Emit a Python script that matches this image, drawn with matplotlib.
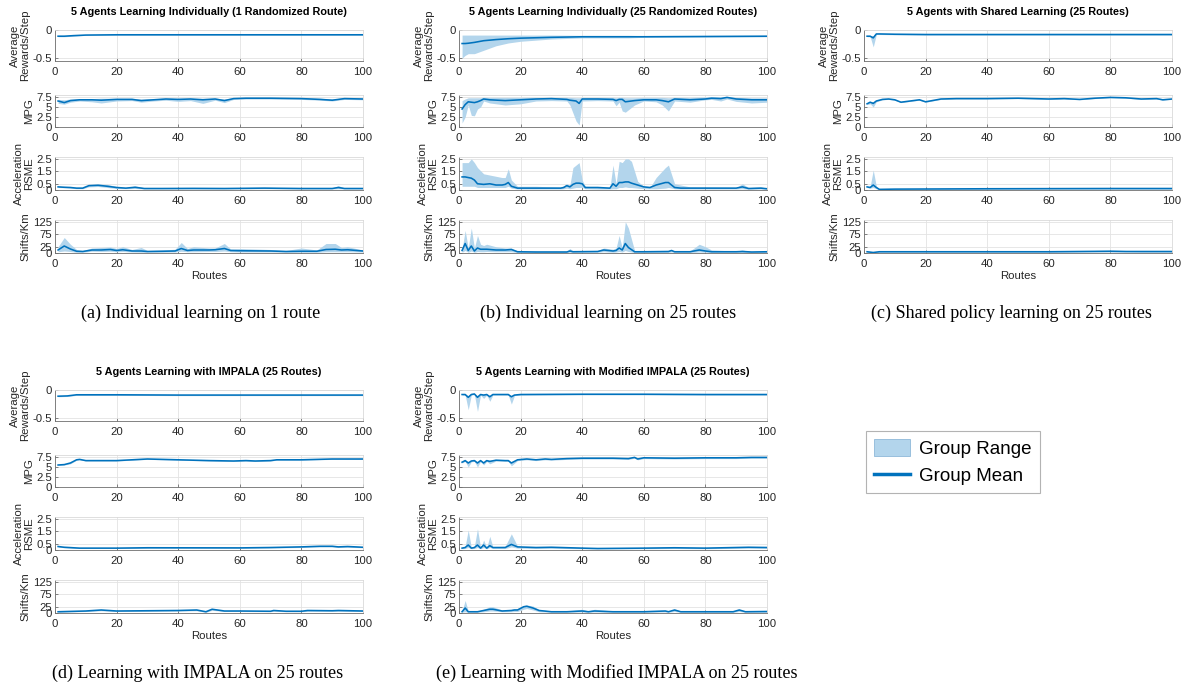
import numpy as np
import matplotlib
matplotlib.use('Agg')
import matplotlib.pyplot as plt
from matplotlib.patches import Patch
from matplotlib.lines import Line2D

plt.rcParams['font.family'] = ['Liberation Sans', 'DejaVu Sans']

#################################
# data (route, mean, lower, upper)
#################################

# (a) individual learning, 1 route
a_rew_x = [1, 3, 6, 10, 20, 40, 60, 80, 100]
a_rew_mean = [-0.11, -0.11, -0.10, -0.09, -0.085, -0.085, -0.085, -0.085, -0.085]
a_rew_lo = [-0.12, -0.12, -0.11, -0.095, -0.09, -0.09, -0.09, -0.09, -0.09]
a_rew_hi = [-0.10, -0.10, -0.09, -0.085, -0.08, -0.08, -0.08, -0.08, -0.08]

a_mpg_x = [1, 3, 5, 8, 12, 15, 20, 25, 28, 32, 36, 40, 44, 48, 52, 55, 58, 62, 70, 80, 86, 90, 94, 100]
a_mpg_mean = [6.5, 6.1, 6.6, 6.8, 6.8, 6.7, 6.9, 6.9, 6.6, 6.8, 7.0, 6.9, 7.0, 6.8, 7.0, 6.6, 7.1, 7.2, 7.2, 7.1, 6.9, 6.7, 7.1, 7.0]
a_mpg_lo = [5.9, 5.7, 6.2, 6.5, 6.3, 6.0, 6.5, 6.6, 6.2, 6.5, 6.7, 6.4, 6.6, 5.9, 6.7, 6.1, 6.9, 7.0, 7.0, 6.9, 6.7, 6.5, 6.9, 6.8]
a_mpg_hi = [6.9, 6.8, 7.0, 7.1, 7.1, 7.2, 7.2, 7.2, 7.0, 7.1, 7.2, 7.2, 7.2, 7.2, 7.2, 7.0, 7.3, 7.4, 7.4, 7.3, 7.2, 7.0, 7.3, 7.2]

a_acc_x = [1, 3, 5, 7, 9, 11, 14, 17, 20, 23, 26, 29, 35, 45, 55, 68, 80, 90, 92, 94, 100]
a_acc_mean = [0.25, 0.22, 0.2, 0.15, 0.15, 0.35, 0.38, 0.3, 0.2, 0.15, 0.22, 0.12, 0.12, 0.13, 0.12, 0.15, 0.12, 0.12, 0.2, 0.12, 0.12]
a_acc_lo = [0.2, 0.18, 0.15, 0.1, 0.1, 0.25, 0.28, 0.2, 0.12, 0.1, 0.12, 0.08, 0.08, 0.08, 0.08, 0.1, 0.08, 0.08, 0.1, 0.08, 0.08]
a_acc_hi = [0.3, 0.28, 0.25, 0.2, 0.2, 0.42, 0.48, 0.45, 0.28, 0.2, 0.32, 0.18, 0.16, 0.2, 0.18, 0.22, 0.16, 0.16, 0.35, 0.16, 0.16]

a_sh_x = [1, 3, 5, 7, 9, 12, 15, 18, 20, 22, 25, 28, 30, 35, 39, 41, 43, 45, 50, 52, 55, 57, 60, 70, 75, 80, 85, 88, 91, 93, 95, 100]
a_sh_mean = [12, 28, 16, 7, 6, 12, 12, 14, 10, 13, 8, 8, 6, 7, 8, 18, 10, 12, 12, 13, 18, 10, 9, 8, 6, 7, 7, 14, 15, 12, 13, 8]
a_sh_lo = [5, 8, 6, 3, 3, 7, 6, 7, 5, 6, 4, 3, 3, 3, 4, 7, 5, 5, 6, 6, 8, 5, 4, 4, 3, 3, 3, 5, 5, 5, 5, 4]
a_sh_hi = [25, 62, 35, 14, 10, 20, 22, 24, 18, 25, 14, 22, 10, 12, 15, 42, 18, 25, 20, 20, 38, 16, 18, 14, 10, 20, 12, 38, 38, 22, 25, 12]

# (b) individual learning, 25 routes
b_rew_x = [1, 2, 3, 5, 8, 12, 16, 20, 30, 40, 55, 60, 80, 100]
b_rew_mean = [-0.24, -0.24, -0.235, -0.22, -0.19, -0.17, -0.155, -0.145, -0.13, -0.12, -0.12, -0.12, -0.115, -0.11]
b_rew_lo = [-0.5, -0.45, -0.42, -0.42, -0.36, -0.28, -0.23, -0.2, -0.16, -0.14, -0.14, -0.13, -0.125, -0.12]
b_rew_hi = [-0.09, -0.09, -0.09, -0.09, -0.09, -0.09, -0.09, -0.09, -0.09, -0.095, -0.095, -0.1, -0.1, -0.1]

b_mpg_x = [1, 2, 3, 4, 5, 6, 7, 8, 10, 15, 20, 25, 30, 35, 36, 38, 39, 40, 45, 50, 51, 52, 53, 54, 57, 60, 64, 66, 68, 70, 75, 80, 82, 85, 87, 90, 95, 100]
b_mpg_mean = [4.5, 5.6, 6.3, 6.2, 6.1, 6.3, 6.6, 7.0, 6.8, 6.6, 6.8, 7.0, 7.1, 6.9, 6.7, 6.5, 5.9, 7.0, 7.0, 6.9, 6.6, 6.9, 6.9, 6.3, 6.6, 6.8, 6.8, 6.6, 6.3, 7.0, 6.8, 7.0, 7.2, 7.1, 7.4, 7.0, 6.8, 6.8]
b_mpg_lo = [1.0, 2.5, 5.5, 2.9, 2.8, 4.5, 5.0, 6.5, 6.0, 5.5, 5.8, 6.5, 6.6, 6.5, 5.5, 1.5, 0.5, 6.5, 6.6, 6.5, 5.3, 6.2, 4.0, 3.7, 5.5, 6.5, 6.3, 5.5, 4.0, 6.5, 6.2, 6.8, 6.9, 6.5, 7.0, 6.4, 6.0, 6.2]
b_mpg_hi = [6.6, 7.0, 7.3, 7.3, 7.3, 7.3, 7.3, 7.4, 7.4, 7.4, 7.4, 7.4, 7.4, 7.4, 7.4, 7.3, 7.3, 7.4, 7.4, 7.4, 7.3, 7.4, 7.4, 7.3, 7.3, 7.4, 7.4, 7.4, 7.3, 7.4, 7.4, 7.5, 7.6, 7.5, 7.6, 7.4, 7.3, 7.3]

b_acc_x = [1, 2, 3, 4, 5, 6, 8, 10, 12, 14, 15, 16, 17, 19, 25, 33, 34, 35, 36, 37, 38, 39, 40, 41, 45, 49, 50, 51, 52, 53, 54, 55, 56, 58, 60, 62, 64, 67, 68, 70, 72, 75, 90, 92, 94, 98, 100]
b_acc_mean = [1.05, 1.05, 1.0, 0.95, 0.8, 0.5, 0.45, 0.5, 0.4, 0.4, 0.45, 0.6, 0.3, 0.15, 0.15, 0.15, 0.2, 0.35, 0.25, 0.45, 0.55, 0.55, 0.5, 0.2, 0.2, 0.15, 0.5, 0.3, 0.6, 0.6, 0.65, 0.65, 0.55, 0.4, 0.25, 0.2, 0.4, 0.6, 0.6, 0.2, 0.15, 0.15, 0.15, 0.25, 0.12, 0.15, 0.1]
b_acc_lo = [0.3, 0.3, 0.3, 0.3, 0.3, 0.2, 0.2, 0.2, 0.2, 0.2, 0.2, 0.3, 0.15, 0.08, 0.08, 0.08, 0.1, 0.15, 0.1, 0.15, 0.2, 0.2, 0.2, 0.1, 0.08, 0.08, 0.1, 0.1, 0.2, 0.2, 0.25, 0.2, 0.2, 0.15, 0.1, 0.1, 0.1, 0.15, 0.2, 0.1, 0.08, 0.08, 0.08, 0.1, 0.06, 0.08, 0.05]
b_acc_hi = [2.2, 2.2, 2.2, 2.5, 2.2, 1.8, 1.3, 1.2, 1.1, 1.0, 1.0, 1.7, 0.8, 0.3, 0.3, 0.22, 0.35, 0.5, 0.4, 1.8, 2.0, 2.2, 0.8, 0.3, 0.25, 0.2, 2.0, 0.5, 2.3, 2.2, 2.5, 2.5, 2.3, 0.7, 0.3, 0.2, 1.0, 1.8, 2.0, 0.5, 0.4, 0.25, 0.2, 0.5, 0.2, 0.25, 0.15]

b_sh_x = [1, 2, 3, 4, 5, 6, 7, 8, 9, 12, 15, 17, 19, 25, 35, 36, 37, 45, 47, 50, 51, 52, 53, 54, 55, 57, 60, 68, 69, 70, 75, 78, 80, 82, 90, 92, 95, 100]
b_sh_mean = [10, 38, 10, 28, 8, 20, 15, 15, 15, 12, 12, 14, 5, 4, 4, 8, 5, 6, 12, 8, 10, 20, 12, 38, 22, 5, 5, 6, 10, 5, 5, 12, 8, 5, 5, 6, 4, 5]
b_sh_lo = [3, 10, 3, 8, 3, 6, 5, 5, 6, 5, 5, 5, 2, 2, 2, 3, 2, 3, 5, 3, 4, 6, 4, 10, 6, 2, 2, 2, 4, 2, 2, 4, 3, 2, 2, 2, 2, 2]
b_sh_hi = [15, 90, 20, 100, 20, 70, 35, 30, 35, 25, 20, 20, 8, 8, 8, 18, 8, 10, 20, 15, 20, 70, 20, 125, 100, 10, 8, 8, 12, 8, 8, 35, 25, 12, 8, 12, 5, 10]

# (c) shared policy learning
c_rew_x = [1, 2, 3, 4, 5, 10, 20, 40, 60, 80, 100]
c_rew_mean = [-0.11, -0.11, -0.14, -0.07, -0.07, -0.075, -0.08, -0.08, -0.08, -0.08, -0.08]
c_rew_lo = [-0.12, -0.12, -0.30, -0.08, -0.08, -0.085, -0.09, -0.09, -0.09, -0.09, -0.09]
c_rew_hi = [-0.10, -0.10, -0.10, -0.065, -0.065, -0.07, -0.075, -0.075, -0.075, -0.075, -0.075]

c_mpg_x = [1, 2, 3, 4, 6, 8, 10, 12, 15, 18, 20, 25, 30, 40, 50, 60, 65, 70, 75, 80, 85, 90, 95, 97, 100]
c_mpg_mean = [5.8, 6.2, 5.9, 6.5, 6.9, 7.0, 6.8, 6.2, 6.5, 6.8, 6.3, 7.0, 7.1, 7.1, 7.2, 7.0, 7.1, 6.9, 7.2, 7.4, 7.3, 7.0, 7.1, 6.8, 7.0]
c_mpg_lo = [5.6, 5.8, 5.0, 6.3, 6.8, 6.9, 6.7, 6.1, 6.4, 6.7, 6.2, 6.9, 7.0, 7.0, 7.1, 6.9, 7.0, 6.8, 7.1, 7.3, 7.2, 6.9, 7.0, 6.7, 6.9]
c_mpg_hi = [6.0, 6.4, 6.3, 6.7, 7.0, 7.1, 6.9, 6.3, 6.6, 6.9, 6.4, 7.1, 7.2, 7.2, 7.3, 7.1, 7.2, 7.0, 7.3, 7.5, 7.4, 7.1, 7.2, 6.9, 7.1]

c_acc_x = [1, 2, 3, 4, 5, 10, 20, 40, 60, 80, 100]
c_acc_mean = [0.25, 0.2, 0.4, 0.2, 0.05, 0.07, 0.08, 0.1, 0.11, 0.12, 0.12]
c_acc_lo = [0.2, 0.15, 0.2, 0.1, 0.03, 0.05, 0.05, 0.05, 0.06, 0.06, 0.06]
c_acc_hi = [0.3, 0.3, 1.6, 0.3, 0.08, 0.1, 0.12, 0.14, 0.15, 0.15, 0.15]

c_sh_x = [1, 3, 5, 20, 40, 60, 80, 85, 90, 100]
c_sh_mean = [5, 2, 5, 5, 5, 5, 7, 6, 6, 6]
c_sh_lo = [3, 1, 3, 3, 3, 3, 4, 4, 3, 3]
c_sh_hi = [7, 4, 7, 7, 7, 7, 11, 10, 8, 8]

# (d) IMPALA
d_rew_x = [1, 4, 7, 10, 20, 40, 60, 80, 100]
d_rew_mean = [-0.11, -0.105, -0.085, -0.085, -0.085, -0.09, -0.09, -0.09, -0.09]
d_rew_lo = [-0.12, -0.115, -0.095, -0.095, -0.095, -0.1, -0.1, -0.1, -0.1]
d_rew_hi = [-0.105, -0.1, -0.08, -0.08, -0.08, -0.085, -0.085, -0.085, -0.085]

d_mpg_x = [1, 3, 5, 7, 8, 10, 20, 25, 30, 40, 45, 50, 58, 62, 65, 70, 72, 80, 90, 100]
d_mpg_mean = [5.5, 5.6, 6.0, 6.8, 6.9, 6.6, 6.6, 6.8, 7.0, 6.8, 6.7, 6.6, 6.5, 6.6, 6.5, 6.6, 6.8, 6.8, 7.0, 7.0]
d_mpg_lo = [5.4, 5.5, 5.8, 6.7, 6.8, 6.5, 6.5, 6.7, 6.9, 6.7, 6.6, 6.5, 6.4, 6.5, 6.4, 6.5, 6.7, 6.7, 6.9, 6.9]
d_mpg_hi = [5.6, 5.7, 6.1, 6.9, 7.0, 6.7, 6.7, 6.9, 7.1, 6.9, 6.8, 6.7, 6.6, 6.7, 6.6, 6.7, 6.9, 6.9, 7.1, 7.1]

d_acc_x = [1, 3, 8, 20, 30, 60, 70, 80, 86, 90, 92, 95, 100]
d_acc_mean = [0.28, 0.22, 0.15, 0.15, 0.18, 0.17, 0.2, 0.25, 0.3, 0.3, 0.25, 0.28, 0.22]
d_acc_lo = [0.24, 0.18, 0.12, 0.12, 0.14, 0.14, 0.16, 0.2, 0.25, 0.25, 0.2, 0.22, 0.18]
d_acc_hi = [0.32, 0.26, 0.18, 0.18, 0.22, 0.2, 0.24, 0.3, 0.36, 0.36, 0.3, 0.34, 0.26]

d_sh_x = [1, 10, 15, 20, 30, 40, 46, 49, 51, 55, 60, 70, 71, 75, 80, 82, 90, 92, 100]
d_sh_mean = [5, 8, 12, 8, 9, 10, 12, 5, 15, 8, 8, 7, 10, 7, 7, 10, 9, 10, 8]
d_sh_lo = [3, 6, 9, 6, 7, 8, 9, 3, 11, 6, 6, 5, 7, 5, 5, 7, 7, 7, 6]
d_sh_hi = [7, 10, 15, 10, 11, 12, 15, 7, 18, 10, 10, 9, 13, 9, 9, 13, 11, 13, 10]

# (e) modified IMPALA
e_rew_x = [1, 2, 3, 4, 5, 6, 7, 8, 9, 10, 11, 15, 16, 17, 18, 20, 40, 60, 80, 100]
e_rew_mean = [-0.08, -0.08, -0.13, -0.08, -0.07, -0.13, -0.08, -0.09, -0.08, -0.12, -0.08, -0.08, -0.08, -0.12, -0.09, -0.08, -0.075, -0.075, -0.08, -0.08]
e_rew_lo = [-0.09, -0.09, -0.35, -0.09, -0.08, -0.38, -0.09, -0.15, -0.09, -0.2, -0.09, -0.09, -0.09, -0.25, -0.1, -0.09, -0.085, -0.085, -0.09, -0.09]
e_rew_hi = [-0.07, -0.07, -0.1, -0.07, -0.06, -0.1, -0.07, -0.08, -0.07, -0.1, -0.07, -0.07, -0.07, -0.1, -0.08, -0.07, -0.065, -0.065, -0.07, -0.07]

e_mpg_x = [1, 2, 3, 4, 5, 6, 7, 8, 9, 10, 12, 15, 16, 17, 19, 22, 25, 28, 30, 35, 40, 50, 55, 57, 58, 60, 70, 80, 90, 95, 100]
e_mpg_mean = [6.2, 6.6, 6.0, 6.5, 6.6, 6.0, 6.6, 6.0, 6.6, 6.4, 6.7, 6.6, 6.6, 6.0, 6.8, 7.0, 6.8, 7.0, 6.9, 7.1, 7.2, 7.2, 7.1, 7.4, 7.0, 7.3, 7.2, 7.3, 7.3, 7.4, 7.4]
e_mpg_lo = [6.0, 6.4, 5.0, 6.3, 6.4, 5.0, 6.4, 5.5, 6.4, 5.8, 6.5, 6.4, 6.4, 5.3, 6.6, 6.8, 6.6, 6.8, 6.7, 6.9, 7.0, 7.0, 6.9, 7.2, 6.8, 7.1, 7.0, 7.1, 7.1, 7.2, 7.2]
e_mpg_hi = [6.4, 6.8, 6.3, 6.7, 6.8, 6.3, 6.8, 6.3, 6.8, 6.7, 6.9, 6.8, 6.8, 6.3, 7.0, 7.2, 7.0, 7.2, 7.1, 7.3, 7.4, 7.4, 7.3, 7.6, 7.2, 7.5, 7.4, 7.5, 7.5, 7.6, 7.6]

e_acc_x = [1, 2, 3, 4, 5, 6, 7, 8, 9, 10, 11, 15, 17, 19, 25, 30, 40, 45, 60, 70, 80, 94, 100]
e_acc_mean = [0.15, 0.2, 0.4, 0.15, 0.2, 0.4, 0.15, 0.4, 0.15, 0.35, 0.2, 0.2, 0.45, 0.25, 0.2, 0.22, 0.15, 0.12, 0.15, 0.18, 0.15, 0.22, 0.2]
e_acc_lo = [0.1, 0.12, 0.2, 0.1, 0.12, 0.2, 0.1, 0.2, 0.1, 0.2, 0.12, 0.12, 0.25, 0.15, 0.12, 0.14, 0.1, 0.08, 0.1, 0.12, 0.1, 0.15, 0.14]
e_acc_hi = [0.2, 0.3, 1.6, 0.2, 0.3, 1.7, 0.2, 0.8, 0.2, 1.1, 0.25, 0.3, 1.3, 0.3, 0.25, 0.28, 0.2, 0.16, 0.2, 0.22, 0.2, 0.28, 0.25]

e_sh_x = [1, 2, 3, 6, 8, 10, 11, 14, 17, 18, 19, 21, 22, 24, 26, 30, 35, 40, 42, 44, 50, 60, 67, 68, 70, 72, 80, 89, 91, 93, 100]
e_sh_mean = [5, 20, 5, 5, 10, 15, 15, 8, 10, 12, 12, 25, 27, 20, 10, 5, 5, 8, 5, 8, 5, 5, 8, 5, 12, 5, 5, 5, 12, 5, 6]
e_sh_lo = [3, 5, 3, 3, 5, 8, 8, 5, 5, 6, 6, 15, 18, 12, 5, 3, 3, 4, 3, 4, 3, 3, 4, 3, 6, 3, 3, 3, 6, 3, 3]
e_sh_hi = [8, 50, 8, 8, 15, 25, 25, 12, 14, 18, 18, 30, 32, 28, 14, 8, 8, 15, 8, 15, 8, 8, 10, 8, 15, 8, 8, 8, 15, 8, 9]

titles = ['5 Agents Learning Individually (1 Randomized Route)',
          '5 Agents Learning Individually (25 Randomized Routes)',
          '5 Agents with Shared Learning (25 Routes)',
          '5 Agents Learning with IMPALA (25 Routes)',
          '5 Agents Learning with Modified IMPALA (25 Routes)']
captions = ['(a) Individual learning on 1 route',
            '(b) Individual learning on 25 routes',
            '(c) Shared policy learning on 25 routes',
            '(d) Learning with IMPALA on 25 routes',
            '(e) Learning with Modified IMPALA on 25 routes']
ylabels = ['Average\nRewards/Step', 'MPG', 'Acceleration\nRSME', 'Shifts/Km']
yticks = [[-0.5, 0], [0, 2.5, 5, 7.5], [0, 0.5, 1.5, 2.5], [0, 25, 75, 125]]
ytlabels = [['-0.5', '0'], ['0', '2.5', '5', '7.5'], ['0', '0.5', '1.5', '2.5'], ['0', '25', '75', '125']]
ylims = [(-0.55, 0.0), (0, 8.0), (0, 2.65), (0, 132)]

panels = [
    [(a_rew_x, a_rew_mean, a_rew_lo, a_rew_hi), (a_mpg_x, a_mpg_mean, a_mpg_lo, a_mpg_hi),
     (a_acc_x, a_acc_mean, a_acc_lo, a_acc_hi), (a_sh_x, a_sh_mean, a_sh_lo, a_sh_hi)],
    [(b_rew_x, b_rew_mean, b_rew_lo, b_rew_hi), (b_mpg_x, b_mpg_mean, b_mpg_lo, b_mpg_hi),
     (b_acc_x, b_acc_mean, b_acc_lo, b_acc_hi), (b_sh_x, b_sh_mean, b_sh_lo, b_sh_hi)],
    [(c_rew_x, c_rew_mean, c_rew_lo, c_rew_hi), (c_mpg_x, c_mpg_mean, c_mpg_lo, c_mpg_hi),
     (c_acc_x, c_acc_mean, c_acc_lo, c_acc_hi), (c_sh_x, c_sh_mean, c_sh_lo, c_sh_hi)],
    [(d_rew_x, d_rew_mean, d_rew_lo, d_rew_hi), (d_mpg_x, d_mpg_mean, d_mpg_lo, d_mpg_hi),
     (d_acc_x, d_acc_mean, d_acc_lo, d_acc_hi), (d_sh_x, d_sh_mean, d_sh_lo, d_sh_hi)],
    [(e_rew_x, e_rew_mean, e_rew_lo, e_rew_hi), (e_mpg_x, e_mpg_mean, e_mpg_lo, e_mpg_hi),
     (e_acc_x, e_acc_mean, e_acc_lo, e_acc_hi), (e_sh_x, e_sh_mean, e_sh_lo, e_sh_hi)],
]

#################################
# layout (pixels)
#################################
W, H = 1184, 686
line_c = '#0072BD'
fill_c = '#B3D5EC'
txt_c = '#262626'

col_left = [55, 459, 864, 55, 459]
row_top = [30, 30, 30, 390, 390]
cap_x = [201, 608, 1011, 198, 617]
ax_w = 308
sub_off = [0, 65, 127, 190]
sub_h = [31, 32, 33, 33]

fig = plt.figure(figsize=(W / 100, H / 100), dpi=100)


def px_axes(x0, y0, w, h):
    return fig.add_axes([x0 / W, 1 - (y0 + h) / H, w / W, h / H])


for p in range(5):
    x0 = col_left[p]
    for k in range(4):
        ax = px_axes(x0, row_top[p] + sub_off[k], ax_w, sub_h[k])
        xs, m, lo, hi = panels[p][k]
        ax.fill_between(xs, lo, hi, color=fill_c, lw=0)
        ax.plot(xs, m, color=line_c, lw=1.15)
        ax.set_xlim(0, 100)
        ax.set_ylim(*ylims[k])
        ax.set_xticks([0, 20, 40, 60, 80, 100])
        ax.set_yticks(yticks[k])
        ax.set_yticklabels(ytlabels[k])
        ax.grid(True, color='#e3e3e3', lw=0.6)
        ax.set_axisbelow(True)
        ax.tick_params(direction='in', length=2, width=0.5, colors='#555555',
                       labelcolor=txt_c, labelsize=8.2, pad=2)
        ax.tick_params(axis='x', pad=4)
        for s in ['top', 'right']:
            ax.spines[s].set_color('#d9d9d9')
            ax.spines[s].set_linewidth(0.6)
        for s in ['left', 'bottom']:
            ax.spines[s].set_color('#6e6e6e')
            ax.spines[s].set_linewidth(0.6)
        ax.set_ylabel(ylabels[k], fontsize=8.2, color=txt_c, labelpad=2, linespacing=1.0)
    cx = x0 + ax_w / 2
    fig.text(cx / W, 1 - (row_top[p] - 18) / H, titles[p], ha='center', va='center',
             fontsize=7.8, fontweight='bold', color='black')
    fig.text(cx / W, 1 - (row_top[p] + 246) / H, 'Routes', ha='center', va='center',
             fontsize=8.2, color=txt_c)
    fig.text(cap_x[p] / W, 1 - (row_top[p] + 283) / H, captions[p], ha='center', va='center',
             fontsize=13, family='Liberation Serif', color='black')

handles = [Patch(facecolor=fill_c, edgecolor='#8fb9d9', lw=0.6),
           Line2D([0], [0], color=line_c, lw=2.5)]
leg = fig.legend(handles, ['Group Range', 'Group Mean'], loc='center',
                 bbox_to_anchor=(953 / W, 1 - 462 / H), fontsize=13.5, frameon=True,
                 fancybox=False, edgecolor='#a0a0a0', handlelength=1.9, handletextpad=0.5,
                 borderpad=0.45, labelspacing=0.45, handleheight=1.0)
leg.get_frame().set_linewidth(0.8)

fig.savefig('out.png', dpi=100)
